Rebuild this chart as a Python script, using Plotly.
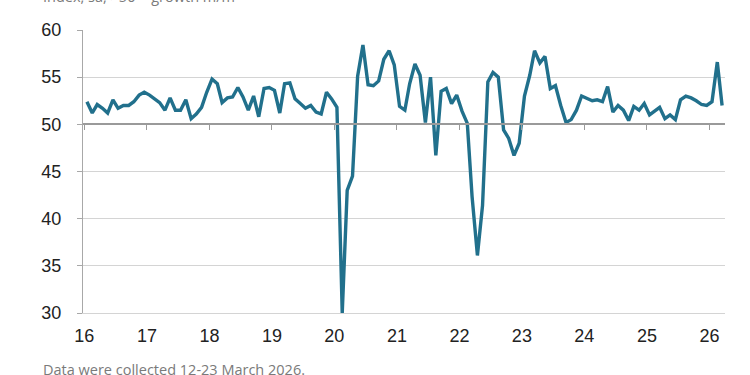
import pandas as pd
import plotly.graph_objects as go

# Monthly index values, Jan 2016 .. Mar 2026
values = [
    52.4, 51.2, 52.1, 51.7, 51.2, 52.6, 51.7, 52.0, 52.0, 52.4, 53.1, 53.4,
    53.1, 52.7, 52.3, 51.5, 52.8, 51.5, 51.5, 52.6, 50.6, 51.1, 51.8, 53.4,
    54.8, 54.3, 52.3, 52.8, 52.9, 53.9, 52.9, 51.5, 53.0, 50.8, 53.8, 53.9,
    53.6, 51.2, 54.3, 54.4, 52.7, 52.2, 51.7, 52.0, 51.3, 51.1, 53.4, 52.7,
    51.8, 30.0, 43.0, 44.5, 55.1, 58.4, 54.2, 54.1, 54.6, 56.9, 57.8, 56.3,
    51.9, 51.5, 54.3, 56.4, 55.2, 50.2, 55.0, 46.7, 53.5, 53.8, 52.2, 53.1,
    51.4, 50.1, 42.3, 36.1, 41.4, 54.5, 55.5, 55.0, 49.4, 48.5, 46.7, 48.0,
    53.0, 55.2, 57.8, 56.5, 57.2, 53.8, 54.1, 52.0, 50.2, 50.5, 51.5, 53.0,
    52.7, 52.5, 52.6, 52.4, 54.0, 51.3, 52.0, 51.5, 50.4, 51.9, 51.5, 52.2,
    51.0, 51.4, 51.8, 50.6, 51.0, 50.5, 52.6, 53.0, 52.8, 52.5, 52.1, 52.0,
    52.4, 56.6, 52.0,
]
start_month = "2016-01-01"
tick_years = list(range(2016, 2027))
tick_labels = [str(y)[2:] for y in tick_years]
y_ticks = [30, 35, 40, 45, 50, 55, 60]

dates = pd.date_range(start_month, periods=len(values), freq="MS") + pd.Timedelta(days=15)
tick_vals = [f"{y}-01-01" for y in tick_years]

LINE = "#21708c"
fig = go.Figure()
fig.add_trace(go.Scatter(x=dates, y=values, mode="lines",
                         line=dict(color=LINE, width=3.4), hoverinfo="skip",
                         showlegend=False))
# invisible trace to host the axis drawn at the 50 line
fig.add_trace(go.Scatter(x=dates, y=values, mode="lines", xaxis="x2",
                         line=dict(color="rgba(0,0,0,0)", width=0),
                         hoverinfo="skip", showlegend=False))

xr = ["2015-12-24", "2026-04-02"]
fig.update_layout(
    width=750, height=375,
    margin=dict(l=83, r=25, t=30, b=62, autoexpand=False),
    paper_bgcolor="white", plot_bgcolor="white",
    font=dict(family="Liberation Sans, Arial, sans-serif", color="#222"),
    xaxis=dict(range=xr, tickvals=tick_vals, ticktext=tick_labels,
               showgrid=False, zeroline=False, showline=True, automargin=False,
               linecolor="#d4d4d4", linewidth=1, ticks="",
               tickfont=dict(size=18, color="#222"), ticklabelstandoff=6),
    xaxis2=dict(range=xr, overlaying="x", anchor="free", position=(50 - 30) / 30,
                tickvals=tick_vals, showticklabels=False, showgrid=False,
                automargin=False,
                zeroline=False, showline=True, linecolor="#9a9a9a", linewidth=1.5,
                ticks="outside", ticklen=5, tickcolor="#9a9a9a", tickwidth=1.2),
    yaxis=dict(range=[30, 60], tickvals=y_ticks, showgrid=True, automargin=False,
               gridcolor="#d4d4d4", gridwidth=1, zeroline=False,
               showline=True, linecolor="#a8a8a8", linewidth=1.2,
               ticks="outside", ticklen=5, tickcolor="#a8a8a8",
               tickfont=dict(size=18, color="#222"), ticklabelstandoff=12),
    annotations=[
        dict(text="Index, sa, >50 = growth m/m", xref="paper", yref="paper",
             x=-0.066, y=1.0, yshift=22, xanchor="left", yanchor="bottom",
             showarrow=False, font=dict(family="Open Sans, sans-serif", size=14.5, color="#7a7a7a")),
        dict(text="Data were collected 12-23 March 2026.", xref="paper", yref="paper",
             x=-0.066, y=0, yshift=-68, xanchor="left", yanchor="bottom",
             showarrow=False, font=dict(family="Open Sans, sans-serif", size=14.5, color="#7a7a7a")),
    ],
)
fig.write_html("out.html", config={"displayModeBar": False},
               post_script="document.body.style.margin='0';")
